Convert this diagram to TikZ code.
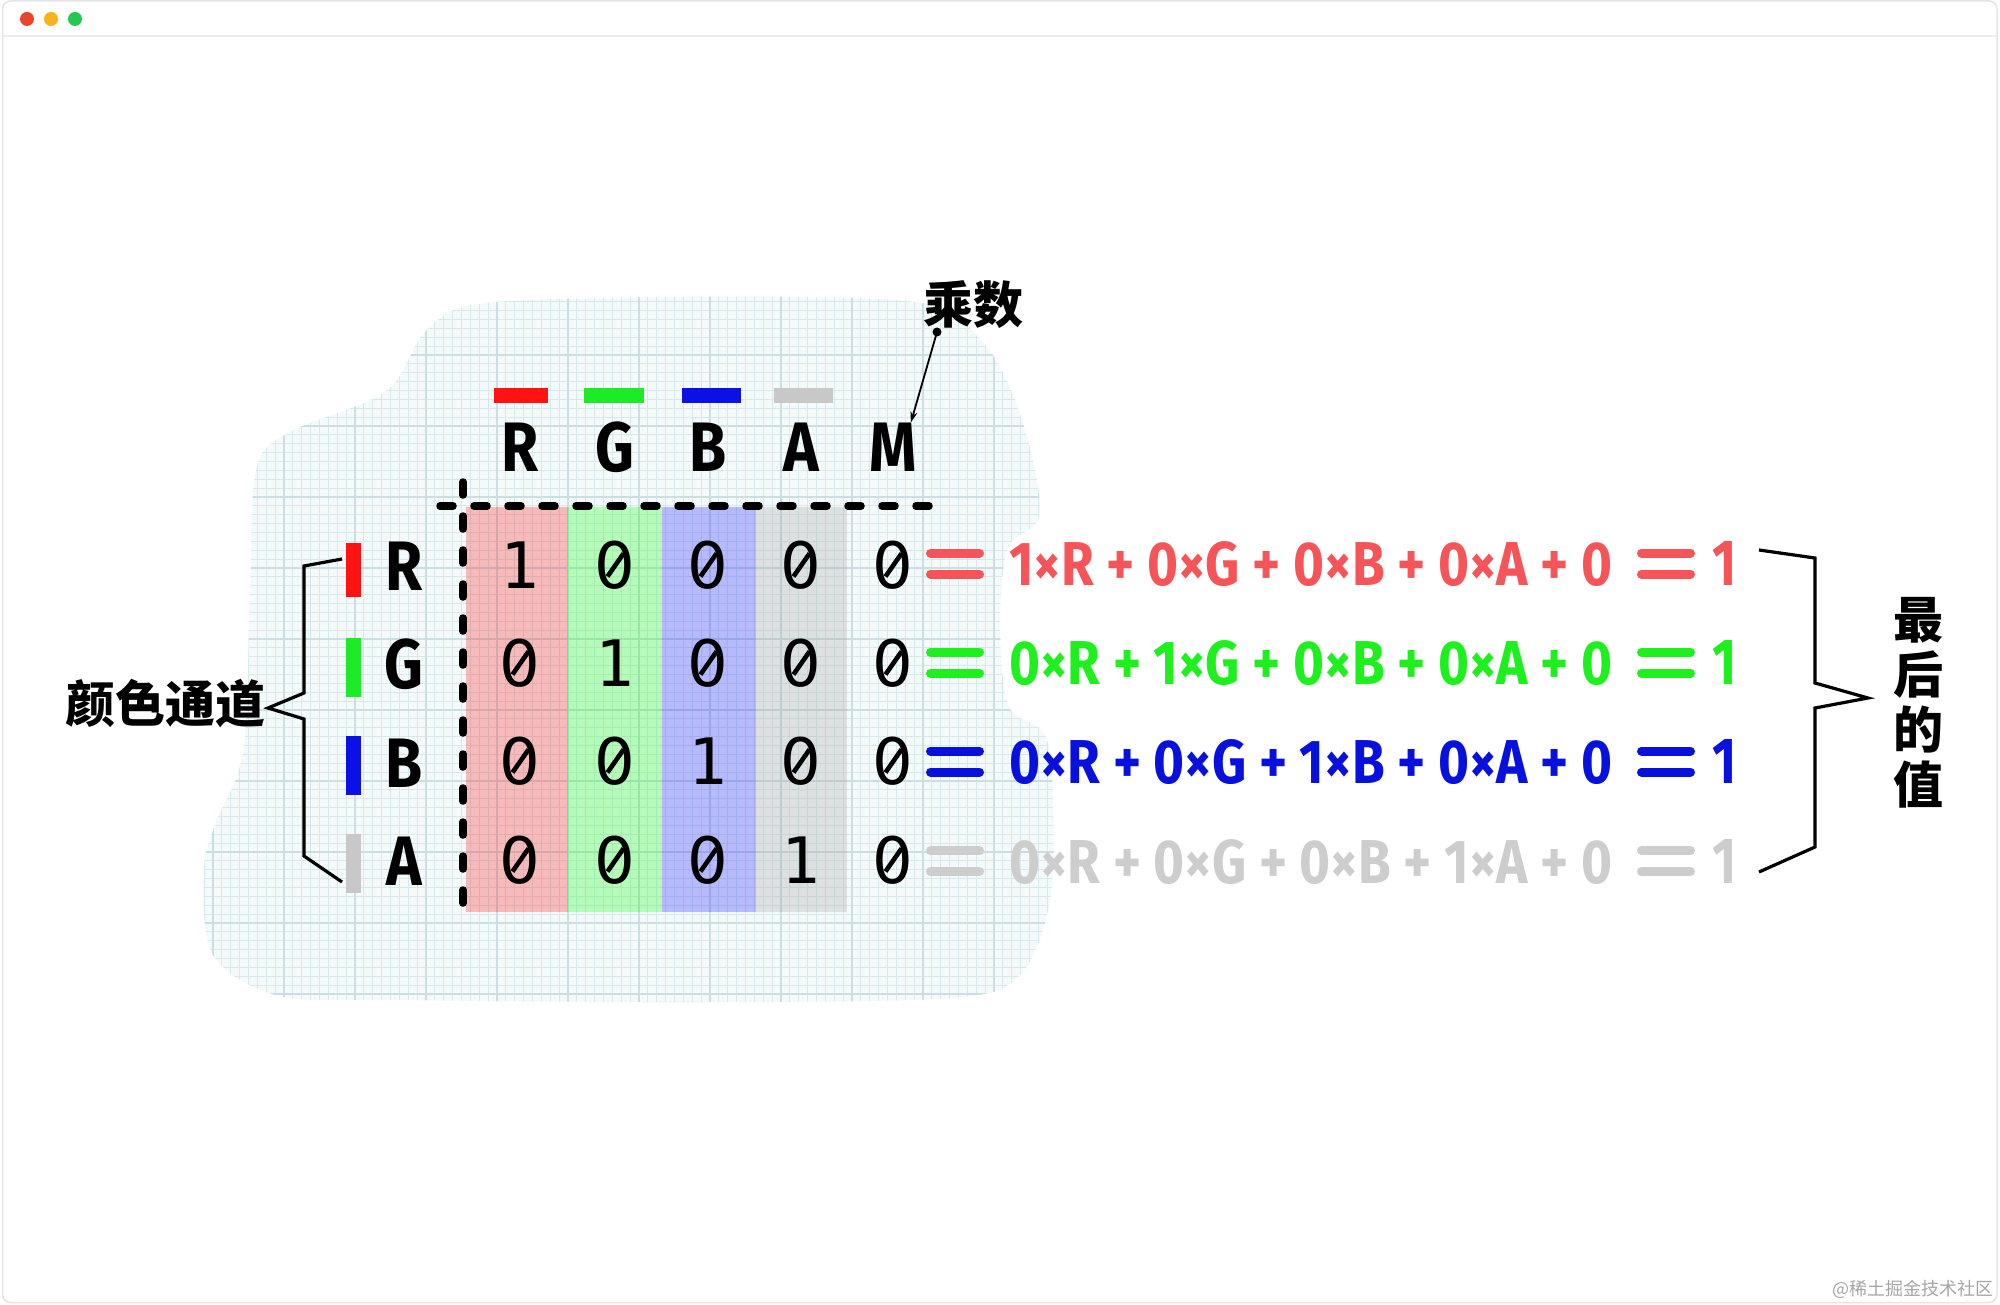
\documentclass[tikz,border=0pt]{standalone}
\usepackage{fontspec}
\usepackage{graphicx}
\usetikzlibrary{arrows.meta}
\newfontfamily\cjk{Noto Sans CJK SC}
\newfontfamily\monof{DejaVu Sans Mono}
\newfontfamily\zerof{DejaVu Sans}
\newfontfamily\labf[FakeStretch=0.86]{Fira Sans}
\newfontfamily\eqf{Fira Sans}
\definecolor{cR}{RGB}{255,18,18}
\definecolor{cG}{RGB}{30,235,40}
\definecolor{cB}{RGB}{10,16,230}
\definecolor{cA}{RGB}{200,200,200}
\definecolor{eR}{RGB}{245,85,88}
\definecolor{eG}{RGB}{30,240,30}
\definecolor{eB}{RGB}{8,16,222}
\definecolor{eA}{RGB}{205,205,205}
\definecolor{gfill}{RGB}{244,249,249}
\definecolor{gminor}{RGB}{216,233,235}
\definecolor{gmajor}{RGB}{203,223,226}
\definecolor{dotR}{RGB}{230,70,45}
\definecolor{dotY}{RGB}{245,180,25}
\definecolor{dotG}{RGB}{35,200,80}
\newcommand\eqbars[4]{%
  \draw[eqbar,#4] (#1,#3-10.5) -- (#2,#3-10.5);
  \draw[eqbar,#4] (#1,#3+10.5) -- (#2,#3+10.5);}
% one matrix entry: name, x, y, value
\newcommand\entry[4]{%
  \ifnum#4=0
    \node[zdigit] (#1) at (#2,#3) {0};
    \draw[line width=4.6pt] ([shift={(-7.5,11.5)}]#1.center) -- ([shift={(8.5,-11.5)}]#1.center);
  \else
    \node[digit] (#1) at (#2,#3) {#4};
  \fi}
\begin{document}
\begin{tikzpicture}[x=1pt,y=-1pt,
  digit/.style={font=\monof\fontsize{64}{64}\selectfont, inner sep=0pt, anchor=center},
  zdigit/.style={font=\zerof\fontsize{64}{64}\selectfont, inner sep=0pt, anchor=center},
  lab/.style={font=\labf\bfseries\fontsize{70}{70}\selectfont, inner sep=0pt, anchor=center},
  cjklab/.style={font=\cjk\bfseries\fontsize{50}{55}\selectfont, inner sep=0pt},
  eqtext/.style={font=\eqf\bfseries\fontsize{64}{64}\selectfont, inner sep=0pt},
  eqbar/.style={line width=9pt, line cap=round},
  chbar/.style={line width=15pt},
  hbar/.style={line width=15pt},
  dashln/.style={line width=7.5pt, line cap=round, dash pattern=on 13pt off 21pt},
  bracel/.style={line width=3.2pt, line join=miter},
  colshade/.style={fill opacity=0.25},
]
\useasboundingbox (0,0) rectangle (2000,1305);
\fill[white] (0,0) rectangle (2000,1305);
% window frame
\draw[black!10, line width=1.5pt, rounded corners=8pt] (2.5,1) rectangle (1997,1302.5);
\draw[black!7, line width=1.5pt] (3,36) -- (1996,36);
\fill[dotR] (27,19) circle (7);
\fill[dotY] (51,19) circle (7);
\fill[dotG] (75,19) circle (7);

% grid blob
\begin{scope}
\clip plot[smooth cycle, tension=0.55] coordinates {
 (425,332) (472,305) (600,298) (800,297) (930,305) (985,345) (1015,400)
 (1035,470) (1038,520) (1008,548) (1000,620) (1008,705) (1045,735)
 (1053,800) (1050,900) (1020,975) (950,998) (700,1002) (400,1000)
 (280,996) (213,955) (204,870) (216,822) (243,752) (250,600) (256,470)
 (290,432) (385,392)};
\fill[gfill] (150,250) rectangle (1100,1050);
\draw[gminor, line width=0.8pt, step=8.875pt] (150,250) grid (1100,1050);
\draw[gmajor, line width=1.1pt, step=71pt] (150,250) grid (1100,1050);
\end{scope}

% column shading
\fill[red, colshade] (466,507) rectangle (568,912);
\fill[green, colshade] (568,507) rectangle (662,912);
\fill[blue, colshade] (662,507) rectangle (756,912);
\fill[black!40, colshade] (756,507) rectangle (847,912);

% dashed axes
\draw[dashln] (440,506) -- (940,506);
\draw[dashln] (463,482) -- (463,910);

% header colour bars
\draw[hbar, cR] (494,395.5) -- (548,395.5);
\draw[hbar, cG] (584,395.5) -- (644,395.5);
\draw[hbar, cB] (682,395.5) -- (741,395.5);
\draw[hbar, cA] (774,395.5) -- (833,395.5);

% header letters
\node[lab] (hR) at (520,447) {R};
\node[lab] (hG) at (615,447) {G};
\node[lab] (hB) at (708,447) {B};
\node[lab] (hA) at (801,447) {A};
\node[lab] (hM) at (893,447) {M};

% row colour bars
\draw[chbar, cR] (353.5,543) -- (353.5,597);
\draw[chbar, cG] (353.5,638) -- (353.5,697);
\draw[chbar, cB] (353.5,736) -- (353.5,795);
\draw[chbar, cA] (353.5,834) -- (353.5,893);

% row letters
\node[lab] (rR) at (404,566) {R};
\node[lab] (rG) at (404,664) {G};
\node[lab] (rB) at (404,763) {B};
\node[lab] (rA) at (404,861) {A};

% matrix
\foreach \row/\yy/\a/\b/\c/\d/\e in {1/565/1/0/0/0/0, 2/663/0/1/0/0/0, 3/761/0/0/1/0/0, 4/860/0/0/0/1/0} {
  \entry{m\row a}{520}{\yy}{\a}
  \entry{m\row b}{615}{\yy}{\b}
  \entry{m\row c}{708}{\yy}{\c}
  \entry{m\row d}{801}{\yy}{\d}
  \entry{m\row e}{893}{\yy}{\e}
}

% equations
\eqbars{930.5}{979.5}{563.5}{eR}
\eqbars{930.5}{979.5}{662.5}{eG}
\eqbars{930.5}{979.5}{761.5}{eB}
\eqbars{930.5}{979.5}{861}{eA}
\node[eqtext, text=eR, anchor=base west] (eq1) at (1009,585) {\resizebox{603pt}{44pt}{1×R + 0×G + 0×B + 0×A + 0}};
\node[eqtext, text=eG, anchor=base west] (eq2) at (1009,684) {\resizebox{603pt}{44pt}{0×R + 1×G + 0×B + 0×A + 0}};
\node[eqtext, text=eB, anchor=base west] (eq3) at (1009,783) {\resizebox{603pt}{44pt}{0×R + 0×G + 1×B + 0×A + 0}};
\node[eqtext, text=eA, anchor=base west] (eq4) at (1009,883) {\resizebox{603pt}{44pt}{0×R + 0×G + 0×B + 1×A + 0}};
\eqbars{1641.5}{1690.5}{563.5}{eR}
\eqbars{1641.5}{1690.5}{662.5}{eG}
\eqbars{1641.5}{1690.5}{761.5}{eB}
\eqbars{1641.5}{1690.5}{861}{eA}
\node[eqtext, text=eR, anchor=base] (v1) at (1725,585) {\scalebox{0.8}[1]{\resizebox{!}{44pt}{1}}};
\node[eqtext, text=eG, anchor=base] (v2) at (1725,684) {\scalebox{0.8}[1]{\resizebox{!}{44pt}{1}}};
\node[eqtext, text=eB, anchor=base] (v3) at (1725,783) {\scalebox{0.8}[1]{\resizebox{!}{44pt}{1}}};
\node[eqtext, text=eA, anchor=base] (v4) at (1725,883) {\scalebox{0.8}[1]{\resizebox{!}{44pt}{1}}};

% left brace + label
\draw[bracel] (342,559) -- (304,566) -- (304,693) -- (268,708) -- (304,719) -- (304,856) -- (342,882);
\node[cjklab, anchor=east] (chan) at (266,704) {颜色通道};

% right brace + label
\draw[bracel] (1759,550) -- (1815,558) -- (1815,683) -- (1868,698) -- (1815,708) -- (1815,847) -- (1759,872);
\node[cjklab, align=center] (final) at (1918,703) {最\\后\\的\\值};

% multiplier label and arrow
\node[cjklab] (mult) at (973,305) {乘数};
\coordinate (multdot) at (937,332);
\fill (multdot) circle (4.5);
\draw[line width=1.8pt, -{Stealth[length=11pt,width=7pt]}] (multdot) -- ([xshift=-6pt]hM.north east);

% watermark
\node[font=\cjk\fontsize{18}{18}\selectfont, text=black!35, inner sep=0pt] (wm) at (1913,1289) {@稀土掘金技术社区};
\end{tikzpicture}
\end{document}
